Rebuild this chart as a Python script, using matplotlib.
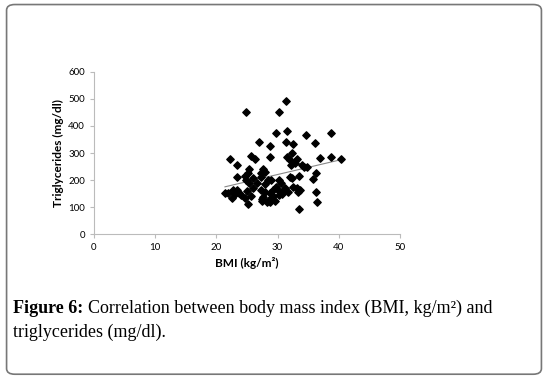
import numpy as np
import matplotlib.pyplot as plt
from matplotlib.patches import FancyBboxPatch

# BMI (kg/m2) and triglycerides (mg/dl)
bmi = [24.9, 30.2, 31.3, 29.8, 31.6, 34.7, 38.8, 27.0, 28.8, 31.3,
       32.5, 36.1, 22.3, 23.3, 25.6, 26.3, 28.7, 31.5, 32.3, 32.0,
       33.1, 32.8, 32.2, 34.0, 34.8, 36.9, 38.8, 40.3, 23.3, 25.4,
       25.2, 24.9, 25.4, 26.0, 27.6, 27.3, 27.9, 27.3, 30.3, 29.0,
       32.0, 32.4, 33.5, 35.8, 36.2, 21.4, 21.9, 22.7, 23.3, 23.7,
       24.1, 24.6, 22.5, 25.6, 25.1, 27.3, 27.9, 27.6, 27.5, 28.2,
       28.8, 29.5, 28.7, 29.2, 29.7, 30.1, 30.3, 29.0, 31.2, 31.7,
       33.1, 33.6, 33.3, 36.3, 36.4, 33.5, 28.4, 26.0, 24.7, 25.0,
       27.5, 30.8, 31.0, 29.3, 28.0, 26.6, 23.0, 30.6, 32.6, 34.3]
tg = [452, 452, 492, 375, 381, 366, 375, 342, 328, 340,
      334, 336, 280, 256, 288, 279, 286, 286, 299, 274,
      280, 264, 255, 256, 247, 283, 285, 280, 213, 243,
      225, 200, 188, 170, 243, 225, 231, 213, 200, 200,
      213, 207, 215, 203, 225, 151, 151, 163, 163, 151,
      145, 136, 133, 142, 111, 163, 157, 139, 124, 120,
      120, 124, 151, 163, 176, 163, 145, 133, 170, 157,
      170, 163, 157, 157, 118, 93, 200, 209, 215, 160,
      130, 150, 165, 140, 185, 190, 148, 190, 175, 250]

fit = np.polyfit(bmi, tg, 1)
fit_x = np.array([min(bmi), max(bmi)])

fig = plt.figure(figsize=(5.48, 3.78), dpi=100)

# rounded frame round the whole figure
frame = FancyBboxPatch((0.012, 0.01), 0.976, 0.978, boxstyle="round,pad=0,rounding_size=0.015",
                       transform=fig.transFigure, fill=False, edgecolor="#777777", linewidth=1.2)
fig.patches.append(frame)

ax = fig.add_axes([0.1715, 0.380, 0.5584, 0.430])
ax.scatter(bmi, tg, marker="D", s=14, color="black", zorder=3)
ax.plot(fit_x, np.polyval(fit, fit_x), color="#888888", linewidth=0.8, zorder=2)

ax.set_xlim(0, 50)
ax.set_ylim(0, 600)
ax.set_xticks(range(0, 51, 10))
ax.set_yticks(range(0, 601, 100))
for side in ["top", "right"]:
    ax.spines[side].set_visible(False)
for side in ["left", "bottom"]:
    ax.spines[side].set_color("#bbbbbb")
    ax.spines[side].set_linewidth(0.8)
ax.tick_params(colors="#bbbbbb", labelcolor="black", labelsize=7, length=3, width=0.8)
for lab in ax.get_xticklabels() + ax.get_yticklabels():
    lab.set_family("Lato")
ax.set_xlabel("BMI (kg/m²)", fontsize=8.5, fontweight="bold", family="Lato", labelpad=3)
ax.set_ylabel("Triglycerides (mg/dl)", fontsize=8.5, fontweight="bold", family="Lato", labelpad=3)

# caption: bold label, then the rest right after it
cap = dict(fontsize=13, family="Liberation Serif")
t1 = fig.text(0.024, 0.172, "Figure 6:", fontweight="bold", **cap)
fig.canvas.draw()
bb = t1.get_window_extent().transformed(fig.transFigure.inverted())
fig.text(bb.x1 + 0.008, 0.172, "Correlation between body mass index (BMI, kg/m²) and", **cap)
fig.text(0.024, 0.108, "triglycerides (mg/dl).", **cap)

fig.savefig("out.png", dpi=100)
